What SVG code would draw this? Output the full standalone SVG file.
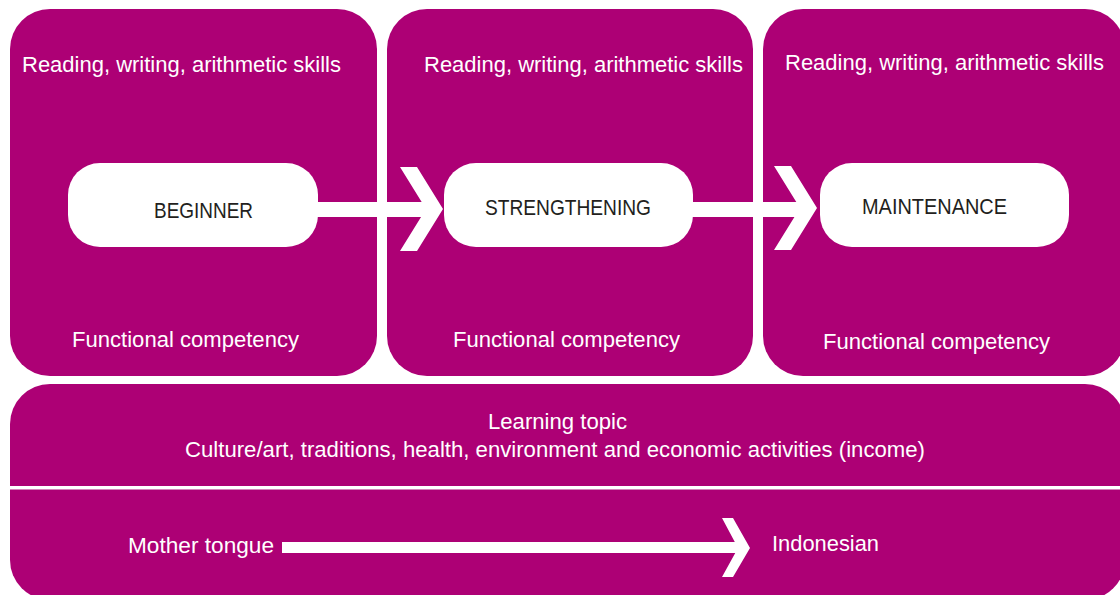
<svg xmlns="http://www.w3.org/2000/svg" width="1120" height="595" viewBox="0 0 1120 595">
  <style>
    .panel { fill: #AD0075; }
    .pill { fill: #FFFFFF; }
    .lbl { font-family: "Liberation Sans", Arial, sans-serif; font-size: 22px; fill: #FFFFFF; }
    .stage { font-family: "Liberation Sans", Arial, sans-serif; font-size: 22.5px; fill: #231F20; }
    .link { fill: #FFFFFF; }
  </style>
  <rect width="1120" height="595" fill="#FFFFFF"/>

  <!-- stage panels -->
  <g id="panel-beginner">
    <rect class="panel" x="10" y="9" width="367" height="367" rx="40"/>
    <text class="lbl" x="22" y="72" textLength="319" lengthAdjust="spacingAndGlyphs">Reading, writing, arithmetic skills</text>
    <text class="lbl" x="72" y="347" textLength="227" lengthAdjust="spacingAndGlyphs">Functional competency</text>
  </g>
  <g id="panel-strengthening">
    <rect class="panel" x="387" y="9" width="366" height="367" rx="40"/>
    <text class="lbl" x="424" y="72" textLength="319" lengthAdjust="spacingAndGlyphs">Reading, writing, arithmetic skills</text>
    <text class="lbl" x="453" y="347" textLength="227" lengthAdjust="spacingAndGlyphs">Functional competency</text>
  </g>
  <g id="panel-maintenance">
    <rect class="panel" x="763" y="9" width="362" height="367" rx="40"/>
    <text class="lbl" x="785" y="70" textLength="319" lengthAdjust="spacingAndGlyphs">Reading, writing, arithmetic skills</text>
    <text class="lbl" x="823" y="349" textLength="227" lengthAdjust="spacingAndGlyphs">Functional competency</text>
  </g>

  <!-- learning topic / language band -->
  <g id="panel-topic">
    <rect class="panel" x="10" y="384" width="1115" height="216" rx="40"/>
    <rect fill="#FFFFFF" x="10" y="486" width="1115" height="3.5"/>
    <text class="lbl" x="488" y="429" textLength="139" lengthAdjust="spacingAndGlyphs">Learning topic</text>
    <text class="lbl" x="185" y="457" textLength="740" lengthAdjust="spacingAndGlyphs">Culture/art, traditions, health, environment and economic activities (income)</text>
  </g>

  <!-- connectors -->
  <g id="connectors">
    <rect class="link" x="316" y="202" width="114" height="15"/>
    <polygon class="link" points="400,167 417,167 443,209 417,251 400,251 426,209"/>
    <rect class="link" x="690" y="202" width="114" height="15"/>
    <polygon class="link" points="774,166 791,166 817,208 791,250 774,250 800,208"/>
    <rect class="link" x="282" y="542" width="460" height="11"/>
    <polygon class="link" points="722,518 733,518 750,548 733,577 722,577 738,548"/>
  </g>

  <!-- stage nodes -->
  <g id="node-beginner">
    <rect class="pill" x="68" y="163" width="250" height="84" rx="32"/>
    <text class="stage" x="154" y="218" textLength="99" lengthAdjust="spacingAndGlyphs">BEGINNER</text>
  </g>
  <g id="node-strengthening">
    <rect class="pill" x="444" y="163" width="249" height="84" rx="32"/>
    <text class="stage" x="485" y="215" textLength="166" lengthAdjust="spacingAndGlyphs">STRENGTHENING</text>
  </g>
  <g id="node-maintenance">
    <rect class="pill" x="820" y="163" width="249" height="84" rx="32"/>
    <text class="stage" x="862" y="214" textLength="145" lengthAdjust="spacingAndGlyphs">MAINTENANCE</text>
  </g>

  <!-- language labels -->
  <g id="node-mother-tongue">
    <text class="lbl" x="128" y="553" textLength="146" lengthAdjust="spacingAndGlyphs">Mother tongue</text>
  </g>
  <g id="node-indonesian">
    <text class="lbl" x="772" y="551" textLength="107" lengthAdjust="spacingAndGlyphs">Indonesian</text>
  </g>
</svg>
